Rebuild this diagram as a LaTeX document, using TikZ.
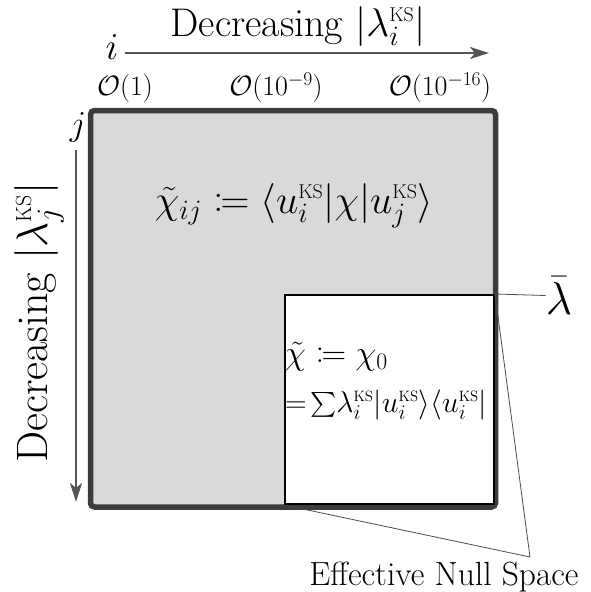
\RequirePackage{fix-cm}
\documentclass[tikz,border=0pt]{standalone}
\usepackage{amsmath,mathtools}
\usetikzlibrary{arrows.meta}
\definecolor{boxgrey}{HTML}{D9D9D9}
\definecolor{edgegrey}{HTML}{3C3C3C}
\definecolor{arrgrey}{HTML}{555555}
\newcommand{\KS}{{\scriptscriptstyle\mathrm{KS}}}
\tikzset{
  axisarrow/.style={draw=arrgrey, line width=2.6pt, -{Stealth[length=19pt,width=12pt,inset=5pt]}},
  thinline/.style={draw=black!70, line width=0.8pt},
  lbl/.style={inner sep=0pt, anchor=center}
}
\begin{document}
\begin{tikzpicture}[x=1pt,y=-1pt]
\useasboundingbox (0,0) rectangle (590,592);
% big matrix
\draw[edgegrey, line width=5.5pt, fill=boxgrey, rounded corners=4pt] (90.5,110.5) rectangle (495.5,507);
% white null block
\node[draw=black, line width=2pt, fill=white, minimum width=209pt, minimum height=209pt, inner sep=0pt] (nb) at (389.5,399.5) {};
% top axis
\node[lbl, font=\fontsize{38}{42}\selectfont] (ilab) at (112,47) {$i$};
\coordinate (ta1) at (125,53);
\coordinate (ta2) at (489,53);
\draw[axisarrow] (ta1) -- (ta2);
\node[inner sep=0pt, anchor=base, font=\fontsize{40}{44}\selectfont] (toplab) at (298,36) {Decreasing $|\lambda_i^\KS|$};
\node[lbl, font=\fontsize{28}{32}\selectfont] (o1) at (125,88) {$\mathcal{O}(1)$};
\node[lbl, font=\fontsize{28}{32}\selectfont] (o2) at (276,88) {$\mathcal{O}(10^{-9})$};
\node[lbl, font=\fontsize{28}{32}\selectfont] (o3) at (440,88) {$\mathcal{O}(10^{-16})$};
% left axis
\node[lbl, font=\fontsize{35}{39}\selectfont] (jlab) at (78,127) {$j$};
\coordinate (la1) at (76,150);
\coordinate (la2) at (76,502);
\draw[axisarrow] (la1) -- (la2);
\node[inner sep=0pt, anchor=base west, rotate=90, font=\fontsize{44}{48}\selectfont] (leftlab) at (47,463) {Decreasing $|\lambda_j^\KS|$};
% main formula
\node[inner sep=0pt, anchor=base, font=\fontsize{40}{44}\selectfont] (chi) at (294,213) {$\tilde{\chi}_{ij}\coloneqq\langle u_i^\KS|\chi|u_j^\KS\rangle$};
% inner formulas
\node[anchor=base west, inner sep=0pt, font=\fontsize{34}{38}\selectfont] (chi0) at (285,364) {$\tilde{\chi}\coloneqq\chi_0$};
\node[anchor=base west, inner sep=0pt, font=\fontsize{30}{34}\selectfont] (chi0b) at (285,412) {$=\!\sum\!\lambda_i^\KS|u_i^\KS\rangle\langle u_i^\KS|$};
% lambda bar
\node[lbl, font=\fontsize{46}{50}\selectfont] (lbar) at (559,295.5) {$\bar{\lambda}$};
\draw[thinline] (nb.north east) -- (lbar.west);
% effective null space
\node[inner sep=0pt, anchor=base, font=\fontsize{33.5}{37}\selectfont] (ens) at (444,585) {Effective Null Space};
\coordinate (ensp) at (530,557);
\draw[thinline] (nb.south west) -- (ensp);
\draw[thinline] (nb.north east) -- (ensp);
\end{tikzpicture}
\end{document}
